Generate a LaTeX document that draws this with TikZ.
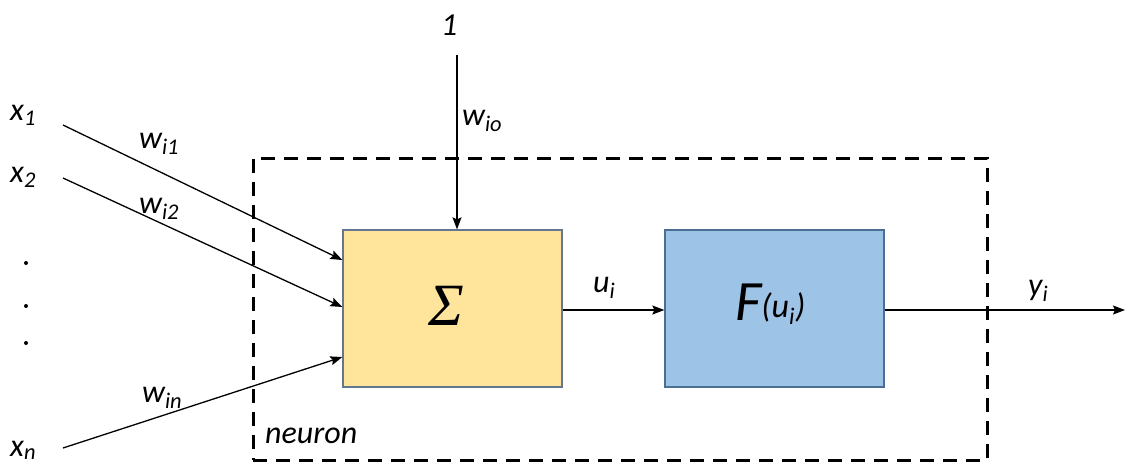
\documentclass[tikz,border=0pt]{standalone}
\usepackage{fontspec}
\setmainfont{Carlito}
\newfontfamily\sigmafont{Liberation Serif}
\usetikzlibrary{arrows.meta,positioning}

\definecolor{sumfill}{HTML}{FFE49C}
\definecolor{sumdraw}{HTML}{65778F}
\definecolor{actfill}{HTML}{9DC3E6}
\definecolor{actdraw}{HTML}{4A6F93}

\begin{document}
\begin{tikzpicture}[
        x=1pt, y=-1pt,
        block/.style={rectangle, draw, line width=1.3pt, minimum width=219pt, minimum height=157pt, inner sep=0pt},
        sumblock/.style={block, draw=sumdraw, fill=sumfill},
        actblock/.style={block, draw=actdraw, fill=actfill},
        frame/.style={rectangle, draw=black, line width=3pt, dash pattern=on 14pt off 9pt, minimum width=734pt, minimum height=302pt},
        lbl/.style={font=\fontsize{32}{38}\selectfont\itshape, inner sep=0pt, anchor=base west},
        flow/.style={-{Stealth[length=12pt, width=9pt, inset=2pt]}, line width=1.3pt}
    ]
    \useasboundingbox (0,0) rectangle (1125,464);

    % Neuron frame and blocks
    \node[frame] (neuron) at (620,309) {};
    \node[sumblock] (sum) at (452.5,308.5) {};
    \node[actblock] (act) at (774.5,308.5) {};
    \node[lbl, font=\fontsize{60}{66}\sigmafont\itshape] (sigma) at (428,325) {Σ};
    \node[lbl, font=\fontsize{57}{64}\selectfont\itshape] (func) at (735,320)
        {F\raisebox{3pt}{\fontsize{34}{36}\selectfont(u\textsubscript{i})}};
    \node[lbl] (neuronlbl) at (265,443) {neuron};

    % Inputs
    \node[lbl] (x1) at (10,120) {x\textsubscript{1}};
    \node[lbl] (x2) at (10,182) {x\textsubscript{2}};
    \node[lbl] (xn) at (10,456) {x\textsubscript{n}};
    \foreach \y in {263,306,343}
        \fill (26,\y) circle (2pt);
    \coordinate (in1) at (63,125);
    \coordinate (in2) at (63,178);
    \coordinate (inn) at (63,448);

    % Bias
    \node[lbl] (one) at (441,35) {1};
    \coordinate (bias) at (457,55);

    % Weights and signals
    \node[lbl] (w1) at (139,148) {w\textsubscript{i1}};
    \node[lbl] (w2) at (139,213) {w\textsubscript{i2}};
    \node[lbl] (wn) at (142,402) {w\textsubscript{in}};
    \node[lbl] (w0) at (462,125) {w\textsubscript{io}};
    \node[lbl] (ui) at (593,292) {u\textsubscript{i}};
    \node[lbl] (yi) at (1028,295) {y\textsubscript{i}};
    \coordinate (out) at (1125,310);

    % Connections
    \draw[flow] (in1) -- ([yshift=48.5pt]sum.west);
    \draw[flow] (in2) -- ([yshift=1.5pt]sum.west);
    \draw[flow] (inn) -- ([yshift=-48.5pt]sum.west);
    \draw[flow] (bias) -- (bias |- sum.north);
    \draw[flow] ([yshift=-1.5pt]sum.east) -- ([yshift=-1.5pt]act.west);
    \draw[flow] ([yshift=-1.5pt]act.east) -- (out);

\end{tikzpicture}
\end{document}
